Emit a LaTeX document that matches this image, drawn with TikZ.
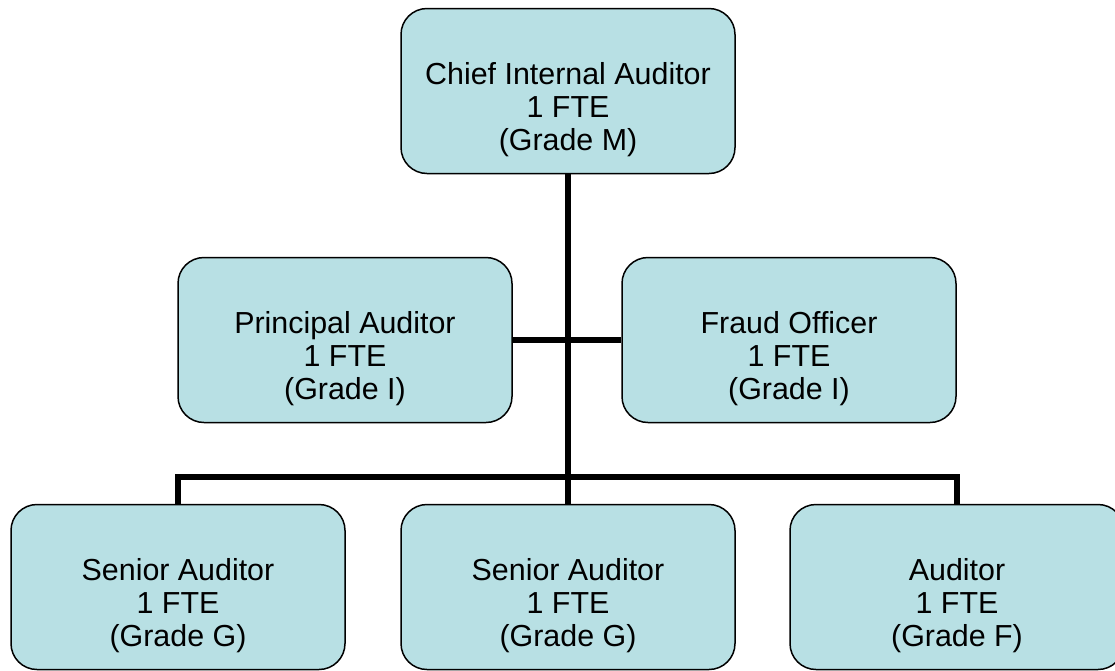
\documentclass[tikz,border=0pt]{standalone}
\usepackage{fontspec}
\setmainfont{Liberation Sans}
\usetikzlibrary{positioning}

\definecolor{postfill}{RGB}{184,224,228}
\newcommand{\postpad}{\rule{0pt}{60pt}}

\begin{document}
\begin{tikzpicture}[
    x=1pt, y=-1pt,
    every node/.style={font=\fontsize{30.4}{33}\selectfont},
    post/.style={rectangle, draw=black, line width=1.5pt, rounded corners=26pt, fill=postfill,
        minimum width=334pt, minimum height=165pt, align=center, inner sep=0pt},
    link/.style={line width=5.5pt, black}
]
\useasboundingbox (0,0) rectangle (1115,670);

\node[post] (chief) at (568,91) {\postpad Chief Internal Auditor\\1 FTE\\(Grade M)};
\node[post] (principal) at (345,340) {\postpad Principal Auditor\\1 FTE\\(Grade I)};
\node[post] (fraud) at (789,340) {\postpad Fraud Officer\\1 FTE\\(Grade I)};
\node[post] (senior1) at (178,587) {\postpad Senior Auditor\\1 FTE\\(Grade G)};
\node[post] (senior2) at (568,587) {\postpad Senior Auditor\\1 FTE\\(Grade G)};
\node[post] (auditor) at (957,587) {\postpad Auditor\\1 FTE\\(Grade F)};

\coordinate (bus) at (568,477);

% reporting lines
\draw[link] (chief.south) -- (senior2.north);
\draw[link] (principal.east) -- (fraud.west);
\draw[link] (senior1.north) |- (bus) -| (auditor.north);

\end{tikzpicture}
\end{document}
